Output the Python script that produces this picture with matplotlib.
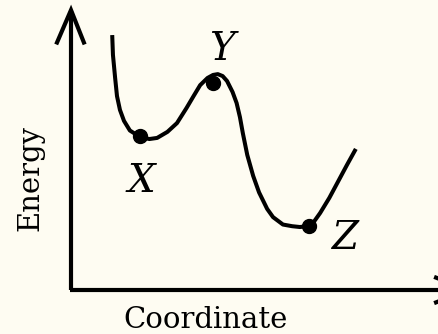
import matplotlib
matplotlib.use("Agg")
import matplotlib.pyplot as plt

# energy profile (coordinate, energy)
coord = [1.12, 1.14, 1.20, 1.25, 1.33, 1.44, 1.60, 1.88, 2.13, 2.34, 2.62, 2.88,
         3.14, 3.33, 3.51, 3.71, 3.86, 3.99, 4.12, 4.24, 4.39, 4.50, 4.59, 4.67,
         4.79, 4.95, 5.11, 5.33, 5.49, 5.76, 6.01, 6.22, 6.47, 6.60, 6.77, 7.02,
         7.26, 7.50, 7.74]
energy = [9.27, 8.55, 7.70, 7.05, 6.55, 6.15, 5.80, 5.56, 5.49, 5.53, 5.75, 6.07,
          6.62, 7.05, 7.45, 7.71, 7.82, 7.85, 7.78, 7.60, 7.20, 6.80, 6.29, 5.70,
          4.91, 4.15, 3.55, 2.95, 2.65, 2.38, 2.32, 2.29, 2.33, 2.48, 2.80, 3.35,
          3.95, 4.55, 5.13]

# labelled states
pt_names = ["X", "Y", "Z"]
pt_coord = [1.88, 3.86, 6.47]
pt_energy = [5.60, 7.53, 2.33]
label_pos = [(1.90, 3.93), (4.10, 8.76), (7.47, 1.89)]

bg = "#fefcf2"
fig = plt.figure(figsize=(4.39, 3.34), dpi=100, facecolor=bg)
ax = fig.add_axes([0, 0, 1, 1])
ax.set_facecolor(bg)
ax.set_xlim(-71 / 36.8, 368 / 36.8)
ax.set_ylim(-44 / 27.5, 290 / 27.5)
ax.axis("off")

# axes drawn by hand, with open arrowheads
lw = 3.0
ax.plot([0, 0], [0, 10.15], color="black", lw=lw, solid_capstyle="butt")
ax.plot([-0.38, 0, 0.35], [9.0, 10.18, 9.0], color="black", lw=lw,
        solid_joinstyle="miter")
ax.plot([-0.04, 10.2], [0, 0], color="black", lw=lw, solid_capstyle="butt")
ax.plot([9.92, 10.8, 9.92], [0.45, 0, -0.45], color="black", lw=lw)

ax.plot(coord, energy, color="black", lw=2.9, solid_joinstyle="round",
        solid_capstyle="butt")
ax.plot(pt_coord, pt_energy, "o", color="black", ms=10)

for name, (lx, ly) in zip(pt_names, label_pos):
    ax.text(lx, ly, name, fontsize=28, style="italic", family="DejaVu Serif",
            ha="center", va="center")

ax.text(3.65, -1.1, "Coordinate", fontsize=21, family="DejaVu Serif",
        ha="center", va="center")
ax.text(-1.1, 4.07, "Energy", fontsize=21, family="DejaVu Serif",
        ha="center", va="center", rotation=90)

fig.savefig("out.png", dpi=100, facecolor=bg)
